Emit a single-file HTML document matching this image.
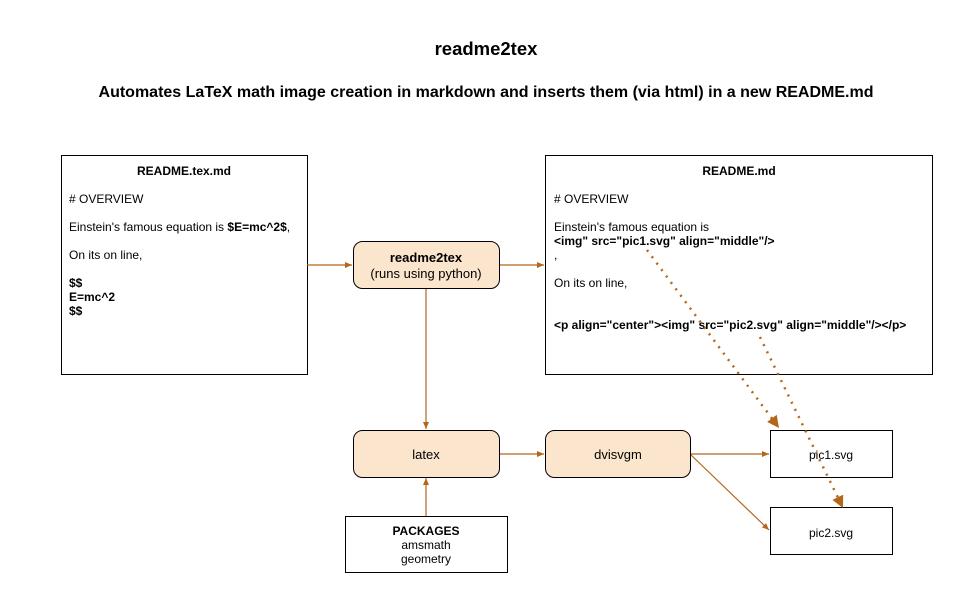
<!DOCTYPE html>
<html><head><style>
body{margin:0;background:#fff;font-family:"Liberation Sans",Arial,sans-serif;}
svg text{font-family:"Liberation Sans",Arial,sans-serif;fill:#000;}
</style></head><body>
<svg width="972" height="608" viewBox="0 0 972 608" xmlns="http://www.w3.org/2000/svg">
<defs>
<marker id="a" markerWidth="8" markerHeight="8" refX="7" refY="4" orient="auto" markerUnits="userSpaceOnUse"><path d="M0,1 L7,4 L0,7 z" fill="#b4661a"/></marker>
<marker id="b" markerWidth="14" markerHeight="14" refX="12" refY="7" orient="auto" markerUnits="userSpaceOnUse"><path d="M0,1 L12,7 L0,13 z" fill="#b4661a"/></marker>
</defs>
<text x="486" y="55" font-size="18.5" font-weight="bold" text-anchor="middle">readme2tex</text>
<text x="486" y="97" font-size="16" font-weight="bold" text-anchor="middle">Automates LaTeX math image creation in markdown and inserts them (via html) in a new README.md</text>

<rect x="61.5" y="155.5" width="246" height="219" fill="#fff" stroke="#000"/>
<g font-size="12">
<text x="184" y="175" text-anchor="middle" font-weight="bold">README.tex.md</text>
<text x="69" y="203"># OVERVIEW</text>
<text x="69" y="231">Einstein's famous equation is <tspan font-weight="bold">$E=mc^2$</tspan>,</text>
<text x="69" y="259">On its on line,</text>
<text x="69" y="287" font-weight="bold">$$</text>
<text x="69" y="301" font-weight="bold">E=mc^2</text>
<text x="69" y="315" font-weight="bold">$$</text>
</g>

<rect x="545.5" y="155.5" width="387" height="219" fill="#fff" stroke="#000"/>
<g font-size="12">
<text x="739" y="175" text-anchor="middle" font-weight="bold">README.md</text>
<text x="554" y="203"># OVERVIEW</text>
<text x="554" y="231">Einstein's famous equation is</text>
<text x="554" y="245" font-weight="bold">&lt;img" src="pic1.svg" align="middle"/&gt;</text>
<text x="554" y="259">,</text>
<text x="554" y="287">On its on line,</text>
<text x="554" y="329" font-weight="bold">&lt;p align="center"&gt;&lt;img" src="pic2.svg" align="middle"/&gt;&lt;/p&gt;</text>
</g>

<g stroke="#b4661a" stroke-width="1.2" fill="none">
<line x1="307" y1="265" x2="352" y2="265" marker-end="url(#a)"/>
<line x1="499" y1="265" x2="544" y2="265" marker-end="url(#a)"/>
<line x1="426" y1="288" x2="426" y2="429" marker-end="url(#a)"/>
<line x1="426" y1="516" x2="426" y2="478" marker-end="url(#a)"/>
<line x1="499" y1="454" x2="544" y2="454" marker-end="url(#a)"/>
<line x1="690" y1="454" x2="769" y2="454" marker-end="url(#a)"/>
<line x1="690" y1="454" x2="769" y2="530" marker-end="url(#a)"/>
</g>

<g stroke="#000" stroke-width="1">
<rect x="353.5" y="241.5" width="146" height="47" rx="9" fill="#fce5cd"/>
<rect x="353.5" y="430.5" width="146" height="47" rx="9" fill="#fce5cd"/>
<rect x="545.5" y="430.5" width="145" height="47" rx="9" fill="#fce5cd"/>
<rect x="345.5" y="516.5" width="162" height="56" fill="#fff"/>
<rect x="770.5" y="430.5" width="122" height="47" fill="#fff"/>
<rect x="770.5" y="507.5" width="122" height="47" fill="#fff"/>
</g>
<g font-size="13" text-anchor="middle">
<text x="426" y="262" font-weight="bold">readme2tex</text>
<text x="426" y="278">(runs using python)</text>
<text x="426" y="459">latex</text>
<text x="618" y="459">dvisvgm</text>
<text x="831" y="459" font-size="12">pic1.svg</text>
<text x="831" y="537" font-size="12">pic2.svg</text>
<text x="426" y="535" font-size="12" font-weight="bold">PACKAGES</text>
<text x="426" y="549" font-size="12">amsmath</text>
<text x="426" y="563" font-size="12">geometry</text>
</g>
<g stroke="#b4661a" fill="none">
<line x1="647" y1="250" x2="779" y2="428" stroke-width="2.5" stroke-dasharray="2,6" marker-end="url(#b)"/>
<line x1="760" y1="337" x2="843" y2="508" stroke-width="2.5" stroke-dasharray="2,6" marker-end="url(#b)"/>
</g>
</svg>
</body></html>
